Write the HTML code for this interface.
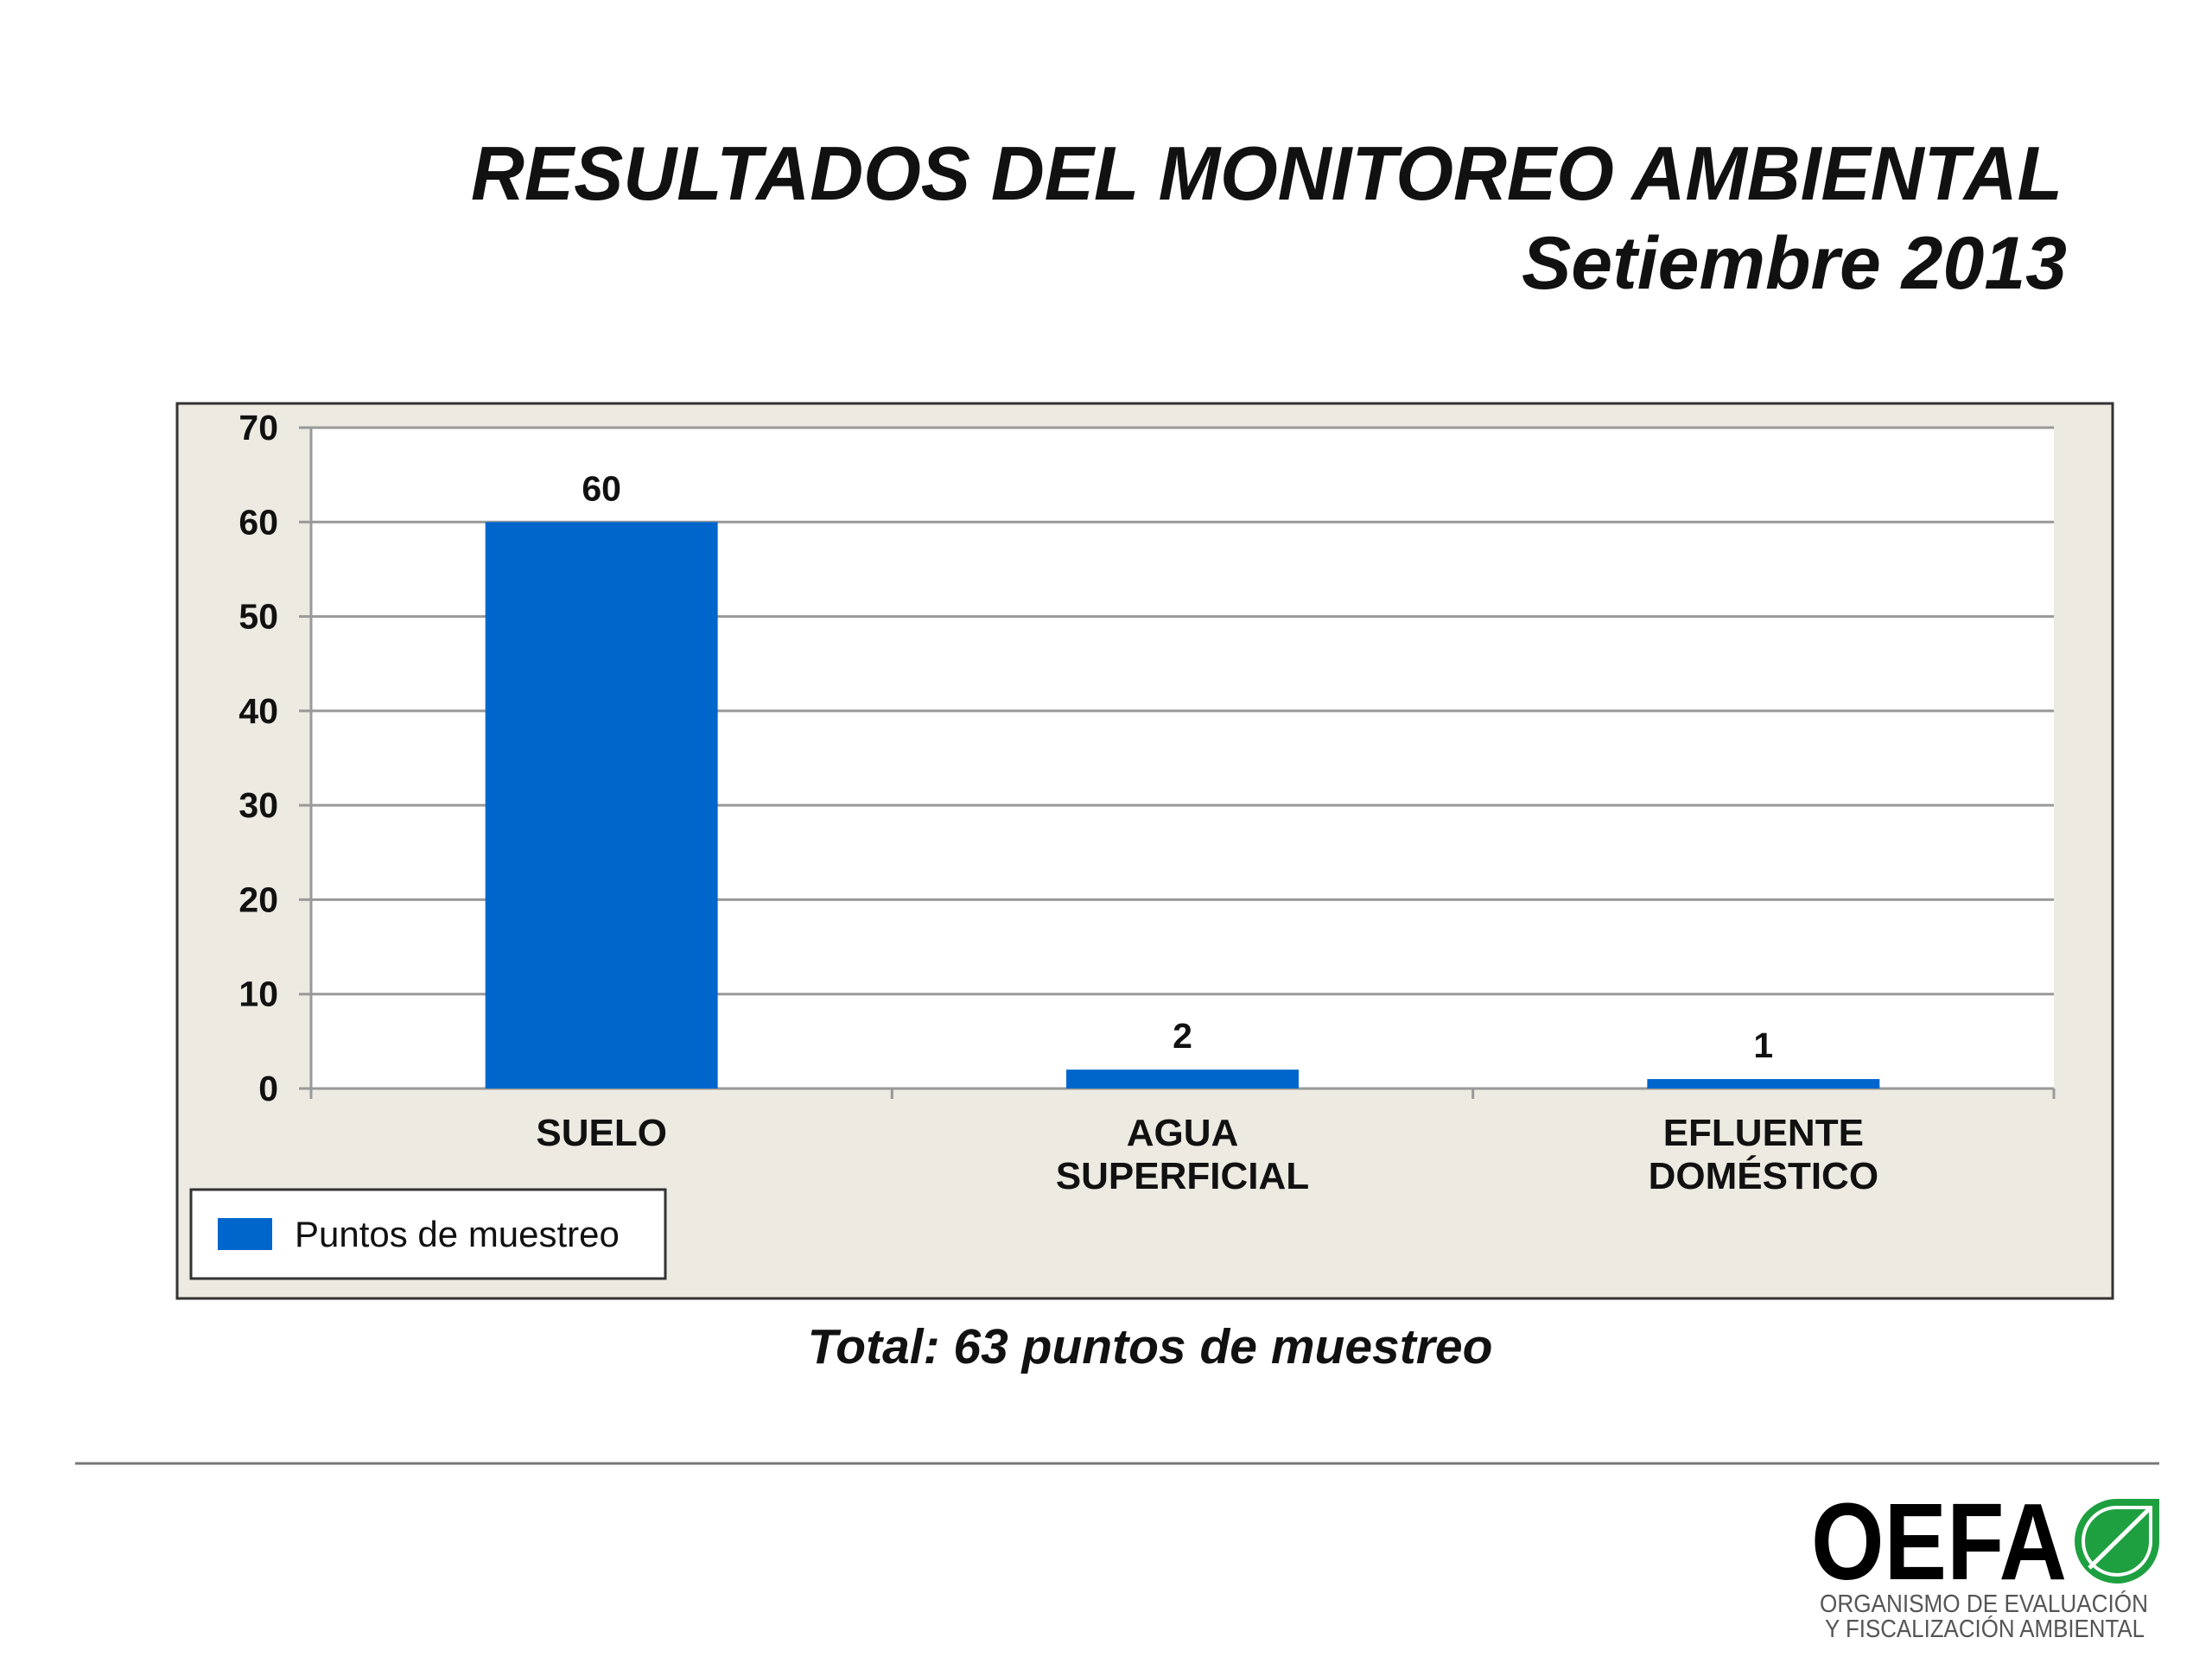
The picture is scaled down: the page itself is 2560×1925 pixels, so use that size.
<!DOCTYPE html>
<html><head><meta charset="utf-8"><style>
body{margin:0;width:2560px;height:1920px;background:#fff;overflow:hidden;font-family:"Liberation Sans",Arial,sans-serif;}
</style></head><body>
<svg width="2560" height="1920" viewBox="0 0 2560 1920" xmlns="http://www.w3.org/2000/svg">
<text x="2387" y="231" text-anchor="end" font-family="Liberation Sans, sans-serif" font-weight="bold" font-style="italic" font-size="88" fill="#111" textLength="1842" lengthAdjust="spacingAndGlyphs">RESULTADOS DEL MONITOREO AMBIENTAL</text>
<text x="2392" y="334" text-anchor="end" font-family="Liberation Sans, sans-serif" font-weight="bold" font-style="italic" font-size="86" fill="#111">Setiembre 2013</text>
<rect x="205" y="467" width="2240" height="1036" fill="#ECEAE1" stroke="#333" stroke-width="3"/>
<rect x="360" y="495" width="2017" height="765" fill="#fff"/>
<g id="chart"></g>
<rect x="221" y="1377" width="549" height="103" fill="#fff" stroke="#333" stroke-width="3"/>
<rect x="252" y="1410" width="63" height="37" fill="#0066CC"/>
<text x="341" y="1443" font-family="Liberation Sans, sans-serif" font-size="42" fill="#111">Puntos de muestreo</text>
<text x="1331" y="1578" text-anchor="middle" font-family="Liberation Sans, sans-serif" font-weight="bold" font-style="italic" font-size="57" fill="#111">Total: 63 puntos de muestreo</text>
<line x1="87" y1="1694" x2="2499" y2="1694" stroke="#777" stroke-width="3"/>
<text x="2096" y="1828" font-family="Liberation Sans, sans-serif" font-weight="bold" font-size="126" fill="#000" textLength="296" lengthAdjust="spacingAndGlyphs">OEFA</text>
<g>
<path d="M2450 1735 L2499 1735 L2499 1785 A49 49 0 1 1 2450 1735 Z" fill="#1FA040"/>
<path d="M2452 1745 L2489 1745 L2489 1785 A39 39 0 1 1 2452 1745 Z" fill="none" stroke="#fff" stroke-width="4"/>
<line x1="2418" y1="1815" x2="2489" y2="1745" stroke="#fff" stroke-width="5"/>
</g>
<text x="2106" y="1866" font-family="Liberation Sans, sans-serif" font-size="29" fill="#555" textLength="380" lengthAdjust="spacingAndGlyphs">ORGANISMO DE EVALUACIÓN</text>
<text x="2112" y="1895" font-family="Liberation Sans, sans-serif" font-size="29" fill="#555" textLength="370" lengthAdjust="spacingAndGlyphs">Y FISCALIZACIÓN AMBIENTAL</text>
</svg>
<script>
const categories=[["SUELO"],["AGUA","SUPERFICIAL"],["EFLUENTE","DOMÉSTICO"]];
const values=[60,2,1];
const ticks=[0,10,20,30,40,50,60,70];
const NS="http://www.w3.org/2000/svg";
const g=document.getElementById('chart');
const L=360,R=2377,Y0=1260,Y70=495,ymax=70;
const y=v=>Y0-(Y0-Y70)*v/ymax;
const bw=(R-L)/categories.length;
const x=i=>L+bw*(i+0.5);
function mk(t,a){const e=document.createElementNS(NS,t);for(const k in a)e.setAttribute(k,a[k]);g.appendChild(e);return e;}
ticks.forEach(t=>{
 const ln=mk('line',{x1:L-14,x2:R,y1:y(t),y2:y(t),stroke:'#999','stroke-width':3});
 
 
 const tx=mk('text',{x:322,y:y(t)+14,'text-anchor':'end','font-family':'Liberation Sans, sans-serif','font-weight':'bold','font-size':41,fill:'#111'});
 tx.textContent=t;
 
 
});
const ax=mk('line',{x1:L,x2:L,y1:Y70,y2:Y0,stroke:'#999','stroke-width':3});


for(let i=0;i<=categories.length;i++){
 const tk=mk('line',{x1:L+bw*i,x2:L+bw*i,y1:Y0,y2:Y0+12,stroke:'#999','stroke-width':3});
 
 
}
values.forEach((v,i)=>{
 const w=bw*0.4;
 const b=mk('rect',{x:x(i)-w/2,y:y(v),width:w,height:Y0-y(v),fill:'#0066CC'});
 
 
 const lb=mk('text',{x:x(i),y:y(v)-25,'text-anchor':'middle','font-family':'Liberation Sans, sans-serif','font-weight':'bold','font-size':41,fill:'#111'});
 lb.textContent=v;
 
 
 categories[i].forEach((s,j)=>{
  const c=mk('text',{x:x(i),y:1326+j*50,'text-anchor':'middle','font-family':'Liberation Sans, sans-serif','font-weight':'bold','font-size':44,fill:'#111'});
  c.textContent=s;
  
  
 });
});
</script>
</body></html>
